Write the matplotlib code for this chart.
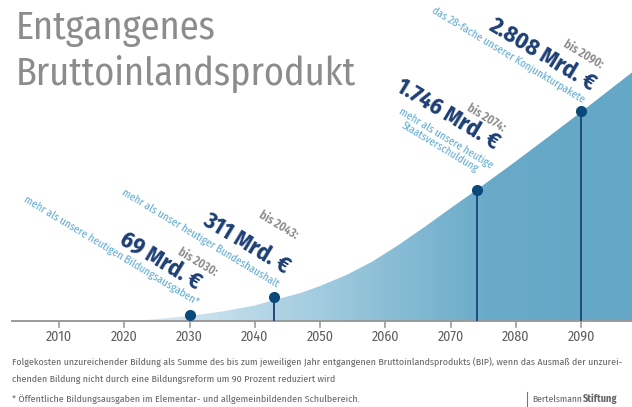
import numpy as np
import matplotlib
matplotlib.use("Agg")
import matplotlib.pyplot as plt
from matplotlib.colors import LinearSegmentedColormap

# curve of lost GDP (Mrd. EUR)
years = [2021, 2025, 2030, 2035, 2040, 2043, 2047, 2050, 2054, 2058, 2062,
         2066, 2070, 2074, 2079, 2085, 2090, 2098]
lost_gdp = [0, 27, 67, 126, 206, 280, 372, 466, 610, 790, 1010,
            1250, 1500, 1745, 2060, 2450, 2780, 3320]

marker_years = [2030, 2043, 2074, 2090]
marker_heights = [80, 320, 1745, 2795]
marker_values = ["69 Mrd. €", "311 Mrd. €", "1.746 Mrd. €", "2.808 Mrd. €"]
marker_bis = ["bis 2030:", "bis 2043:", "bis 2074:", "bis 2090:"]
marker_notes = ["mehr als unsere heutigen Bildungsausgaben*",
                "mehr als unser heutiger Bundeshaushalt",
                "mehr als unsere heutige\nStaatsverschuldung",
                "das 28-fache unserer Konjunkturpakete"]
tick_years = [2010, 2020, 2030, 2040, 2050, 2060, 2070, 2080, 2090]

W, H = 632, 407
NAVY = "#1d3f74"
LIGHT = "#5eaad0"
GREY = "#8a8a8a"
COND = ["Fira Sans Condensed", "DejaVu Sans"]
plt.rcParams["font.family"] = COND


def px(x, y):
    return x / W, 1 - y / H


fig = plt.figure(figsize=(W / 100, H / 100), dpi=100)
ax = fig.add_axes([12 / W, 86 / H, 620 / W, 321 / H])
ax.set_xlim(2002.8, 2097.8)
ax.set_ylim(0, 4270)
ax.axis("off")

# gradient fill under the curve
cmap = LinearSegmentedColormap.from_list(
    "g", [(0, "#deeef5"), (0.35, "#a6cee1"), (0.72, "#68aac8"), (1, "#64a7c6")])
grad = np.linspace(0, 1, 256).reshape(1, -1)
img = ax.imshow(grad, extent=[2021, 2097.8, 0, 3400], aspect="auto", cmap=cmap,
                zorder=1)
poly = ax.fill_between(years, lost_gdp, 0, color="none")
img.set_clip_path(poly.get_paths()[0], transform=ax.transData)

# baseline and ticks
ax.plot([2002.8, 2097.8], [0, 0], color="#9a9a9a", lw=1.4, zorder=3,
        clip_on=False)
for yr in tick_years:
    ax.plot([yr, yr], [0, -80], color="#9a9a9a", lw=1.2, clip_on=False)
    ax.text(yr, -215, str(yr), ha="center", va="center", fontsize=10,
            color="#5f5f5f")

# stems and markers
ax.vlines(marker_years, 0, marker_heights, color="#1f4a7e", lw=1.4, zorder=4)
ax.plot(marker_years, marker_heights, "o", color="#0b4a78", ms=7, zorder=5)

# annotations (positions in pixels)
rot = -31
value_pos = [(160, 262), (246, 243), (447, 115), (542, 54)]
bis_pos = [(197, 262), (278, 225), (486, 118), (583, 55)]
note_pos = [(111, 251), (200, 238), (443, 143), (508, 55)]
for i in range(4):
    fig.text(*px(*value_pos[i]), marker_values[i], rotation=rot,
             rotation_mode="anchor", ha="center", va="center",
             fontsize=17, fontweight="bold", color=NAVY)
    fig.text(*px(*bis_pos[i]), marker_bis[i], rotation=rot,
             rotation_mode="anchor", ha="center", va="center",
             fontsize=8.5, fontweight="semibold", color=GREY)
    fig.text(*px(*note_pos[i]), marker_notes[i], rotation=rot,
             rotation_mode="anchor", ha="center", va="center",
             fontsize=7.8, color=LIGHT, linespacing=1.0)

# title
for txt, yb in [("Entgangenes", 39), ("Bruttoinlandsprodukt", 85)]:
    fig.text(*px(16, yb), txt, ha="left", va="baseline", fontsize=27.5,
             fontweight="normal", color="#8c8c8c")

# footer
foot = ["Folgekosten unzureichender Bildung als Summe des bis zum jeweiligen "
        "Jahr entgangenen Bruttoinlandsprodukts (BIP), wenn das Ausmaß der "
        "unzurei-",
        "chenden Bildung nicht durch eine Bildungsreform um 90 Prozent "
        "reduziert wird",
        "* Öffentliche Bildungsausgaben im Elementar- und allgemeinbildenden "
        "Schulbereich."]
for txt, yc in zip(foot, [362, 379, 399]):
    fig.text(*px(12, yc), txt, ha="left", va="center", fontsize=7.15,
             color="#666666")
fig.lines.append(plt.Line2D([527 / W, 527 / W], [1 - 392 / H, 1 - 406 / H],
                            transform=fig.transFigure, color="#777777", lw=0.8))
fig.text(*px(532, 399), "Bertelsmann", ha="left", va="center", fontsize=6.9,
         color="#666666")
fig.text(*px(583, 399), "Stiftung", ha="left", va="center", fontsize=7.3,
         fontweight="bold", color="#666666")

fig.savefig("out.png", dpi=100)
